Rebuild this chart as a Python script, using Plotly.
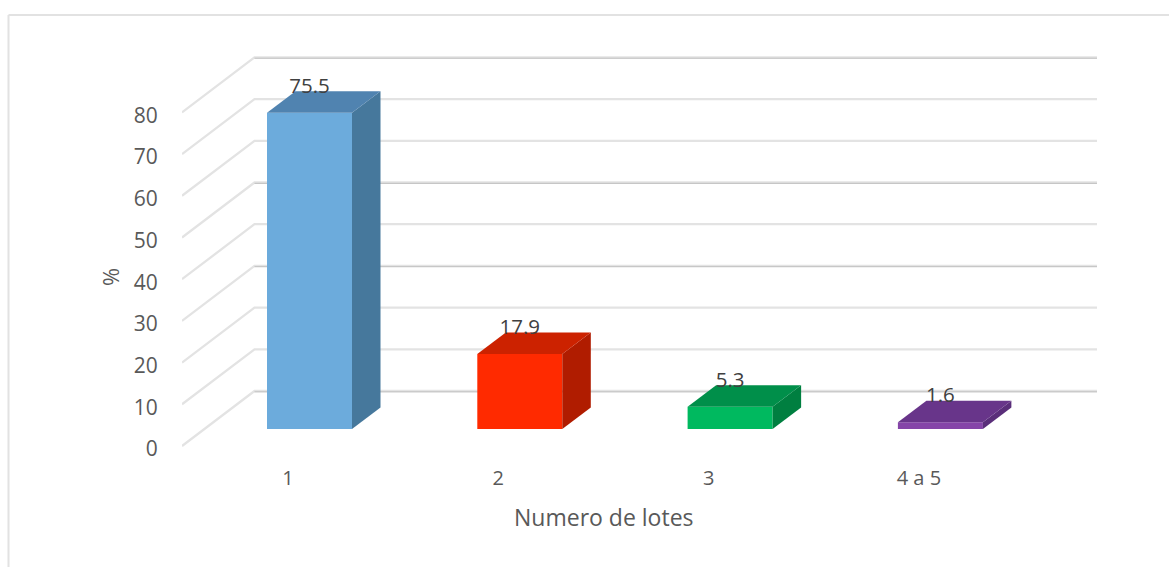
import plotly.graph_objects as go

categories = ["1", "2", "3", "4 a 5"]
values = [75.5, 17.9, 5.3, 1.6]
front_colors = ["#6CABDC", "#FF2A00", "#00B95F", "#8545A8"]
top_colors = ["#5083B0", "#CC2200", "#008F4A", "#68358A"]
side_colors = ["#46789C", "#B01C00", "#007F40", "#5A2E7A"]
y_ticks = [0, 10, 20, 30, 40, 50, 60, 70, 80]
dark_levels = [0, 30, 50, 80]

W, H = 1169, 567
L, R, T, B = 182, 1097, 40, 459
STEP = 210.3            # px per category
SCALE = 4.19            # px per % on the bar axis
TICK_SCALE = 4.17       # px per % on the tick-label axis
BAR_W = 85 / STEP
BAR_DX, BAR_DY = 28.5 / STEP, 21.5 / SCALE
WALL_DX, WALL_DY = 72.5 / STEP, 55 / TICK_SCALE
WALL_SHIFT = 3 / TICK_SCALE
LABEL_PAD = 25 / SCALE

# axis ranges: tick axis (labels, walls) and bar axis (front plane of the bars)
x_tick_range = [(L - 288) / STEP, (R - 288) / STEP]
y_tick_range = [(449 - B) / TICK_SCALE, (449 - T) / TICK_SCALE]
x_bar_range = [(L - 309.5) / STEP, (R - 309.5) / STEP]
y_bar_range = [(429 - B) / SCALE, (429 - T) / SCALE]

fig = go.Figure()

# wall gridlines, drawn on the tick axis so that the bars cover them
for level in y_ticks:
    base = level + WALL_SHIFT
    wx = [x_tick_range[0], x_tick_range[0] + WALL_DX, x_tick_range[1]]
    wy = [base, base + WALL_DY, base + WALL_DY]
    fig.add_trace(go.Scatter(x=wx, y=wy, mode="lines", hoverinfo="skip", showlegend=False,
                             line=dict(color="#E3E3E3", width=2.3)))
    if level in dark_levels:
        fig.add_trace(go.Scatter(x=wx[1:], y=[w - 0.2 for w in wy[1:]], mode="lines",
                                 hoverinfo="skip", showlegend=False,
                                 line=dict(color="#BFBFBF", width=1)))

positions = list(range(len(categories)))

# bars
fig.add_trace(go.Bar(x=positions, y=values, width=BAR_W, marker=dict(color=front_colors, line_width=0),
                     xaxis="x2", yaxis="y2", showlegend=False))

for i, v in enumerate(values):
    x0, x1 = i - BAR_W / 2, i + BAR_W / 2
    fig.add_trace(go.Scatter(
        x=[x1, x1 + BAR_DX, x1 + BAR_DX, x1, x1], y=[0, BAR_DY, v + BAR_DY, v, 0],
        mode="lines", fill="toself", fillcolor=side_colors[i], line=dict(width=0),
        hoverinfo="skip", showlegend=False, xaxis="x2", yaxis="y2"))
    fig.add_trace(go.Scatter(
        x=[x0, x1, x1 + BAR_DX, x0 + BAR_DX, x0], y=[v, v, v + BAR_DY, v + BAR_DY, v],
        mode="lines", fill="toself", fillcolor=top_colors[i], line=dict(width=0),
        hoverinfo="skip", showlegend=False, xaxis="x2", yaxis="y2"))

# data labels
fig.add_trace(go.Scatter(
    x=positions, y=[v + LABEL_PAD for v in values], text=[f"{v:.1f}" for v in values],
    mode="text", textposition="middle center",
    textfont=dict(family="Open Sans", size=20.5, color="#404040"),
    hoverinfo="skip", showlegend=False, xaxis="x2", yaxis="y2"))

tick_font = dict(family="Open Sans", color="#595959")
fig.update_layout(
    width=W, height=H, autosize=False,
    margin=dict(l=L, r=W - R, t=T, b=H - B, autoexpand=False),
    paper_bgcolor="white", plot_bgcolor="rgba(0,0,0,0)",
    xaxis=dict(range=x_tick_range, tickmode="array", tickvals=positions, ticktext=categories,
               showgrid=False, zeroline=False, showline=False, ticks="outside", ticklen=1,
               tickcolor="rgba(0,0,0,0)", tickfont=dict(size=20, **tick_font)),
    yaxis=dict(range=y_tick_range, tickmode="array", tickvals=y_ticks, showgrid=False,
               zeroline=False, showline=False, ticks="outside", ticklen=19,
               tickcolor="rgba(0,0,0,0)", tickfont=dict(size=21, **tick_font)),
    xaxis2=dict(range=x_bar_range, overlaying="x", visible=False),
    yaxis2=dict(range=y_bar_range, overlaying="y", visible=False),
    annotations=[
        dict(text="Numero de lotes", xref="paper", yref="paper", showarrow=False,
             xanchor="center", yanchor="middle",
             x=(603.5 - L) / (R - L), y=(B - 517) / (B - T),
             font=dict(size=23, **tick_font)),
        dict(text="%", xref="paper", yref="paper", showarrow=False, textangle=-90,
             xanchor="center", yanchor="middle",
             x=(110 - L) / (R - L), y=(B - 277) / (B - T),
             font=dict(size=22, **tick_font)),
    ],
    shapes=[
        dict(type="line", xref="paper", yref="paper", layer="below",
             x0=(8.5 - L) / (R - L), x1=(8.5 - L) / (R - L), y0=(B - H) / (B - T), y1=(B - 15) / (B - T),
             line=dict(color="#E2E2E2", width=2)),
        dict(type="line", xref="paper", yref="paper", layer="below",
             x0=(8.5 - L) / (R - L), x1=(W - L) / (R - L), y0=(B - 15) / (B - T), y1=(B - 15) / (B - T),
             line=dict(color="#E2E2E2", width=2)),
    ],
)

fig.write_html("out.html", config={"displayModeBar": False},
               post_script="document.body.style.margin='0';document.documentElement.style.overflow='hidden';")
